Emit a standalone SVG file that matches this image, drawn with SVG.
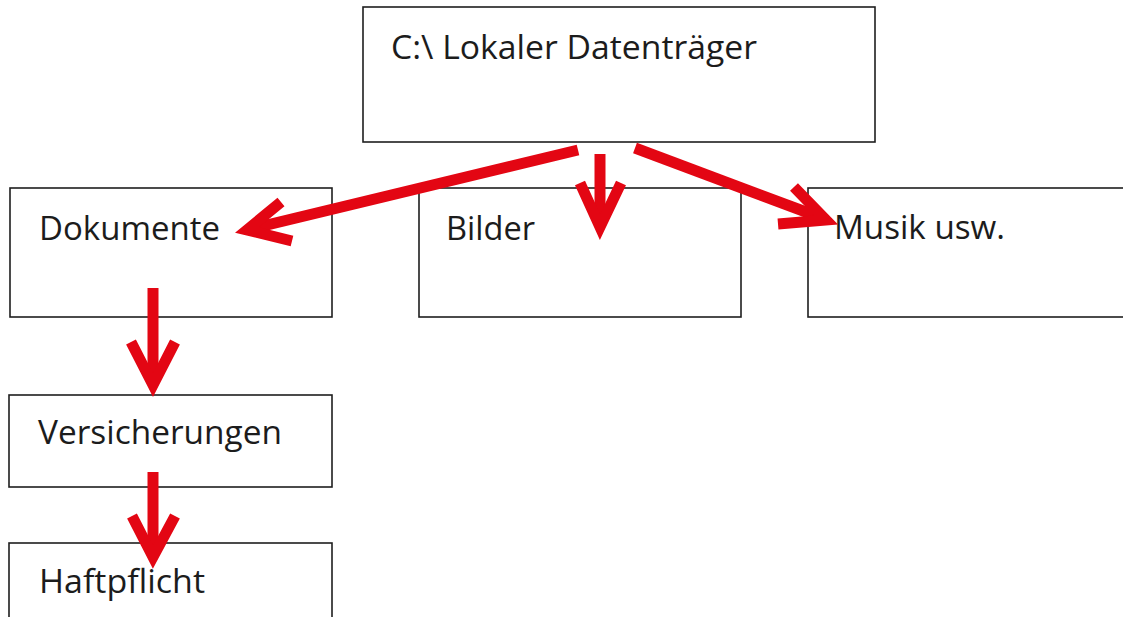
<svg xmlns="http://www.w3.org/2000/svg" width="1123" height="617" viewBox="0 0 1123 617">
<style>
.box{fill:#fff;stroke:#1e1e1e;stroke-width:1.6}
.lbl{font-family:"Open Sans","Liberation Sans",sans-serif;font-size:32px;fill:#1c1c1c}
.arr{fill:none;stroke:#e30613;stroke-width:11;stroke-linecap:butt;stroke-linejoin:miter;stroke-miterlimit:6}
</style>
<rect width="1123" height="617" fill="#fff"/>
<g id="node-root"><rect class="box" x="363" y="7" width="512" height="135"/><text class="lbl" x="391" y="59" textLength="366" lengthAdjust="spacingAndGlyphs">C:\ Lokaler Datenträger</text></g>
<g id="node-dokumente"><rect class="box" x="10" y="188" width="322" height="129"/><text class="lbl" x="39" y="240" textLength="181" lengthAdjust="spacingAndGlyphs">Dokumente</text></g>
<g id="node-bilder"><rect class="box" x="419" y="188" width="322" height="129"/><text class="lbl" x="446" y="240" textLength="89" lengthAdjust="spacingAndGlyphs">Bilder</text></g>
<g id="node-musik"><rect class="box" x="808" y="188" width="330" height="129"/><text class="lbl" x="834" y="239" textLength="171" lengthAdjust="spacingAndGlyphs">Musik usw.</text></g>
<g id="node-versicherungen"><rect class="box" x="9" y="395" width="323" height="92"/><text class="lbl" x="38" y="444" textLength="244" lengthAdjust="spacingAndGlyphs">Versicherungen</text></g>
<g id="node-haftpflicht"><rect class="box" x="9" y="543" width="323" height="90"/><text class="lbl" x="39" y="593" textLength="166" lengthAdjust="spacingAndGlyphs">Haftpflicht</text></g>
<g id="connectors">
<path class="arr" d="M578,150 L250,229"/>
<path class="arr" d="M281,202 L247,230 L292,241"/>
<path class="arr" d="M600,154 L600,225"/>
<path class="arr" d="M580,183 L600,227 L621,183"/>
<path class="arr" d="M635,148 L822,218"/>
<path class="arr" d="M794,187 L826,220 L778,224"/>
<path class="arr" d="M153,288 L153,383"/>
<path class="arr" d="M131,342 L153,385 L175,342"/>
<path class="arr" d="M153,472 L153,555"/>
<path class="arr" d="M132,516 L153,557 L175,516"/>
</g>
</svg>
